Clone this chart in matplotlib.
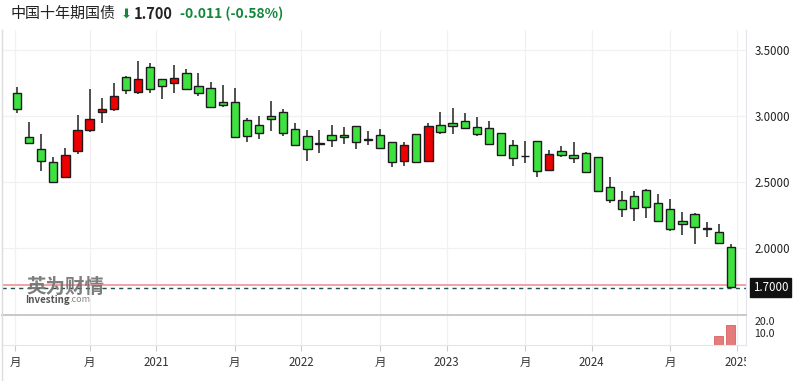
import matplotlib
matplotlib.use("Agg")
import matplotlib.pyplot as plt
from matplotlib.transforms import Bbox, TransformedBbox

plt.rcParams["font.family"] = ["Noto Sans CJK SC", "DejaVu Sans"]

# monthly candles, Feb 2020 .. Jan 2025 (index 1..60)
opens = [3.168, 2.839, 2.744, 2.650, 2.536, 2.731, 2.890, 3.027, 3.047, 3.289,
         3.180, 3.365, 3.274, 3.248, 3.320, 3.226, 3.206, 3.105, 3.105, 2.966,
         2.928, 2.996, 3.029, 2.900, 2.842, 2.792, 2.850, 2.850, 2.920, 2.822,
         2.850, 2.802, 2.658, 2.858, 2.658, 2.928, 2.941, 2.961, 2.911, 2.903,
         2.870, 2.774, 2.695, 2.807, 2.587, 2.733, 2.698, 2.714, 2.683, 2.461,
         2.360, 2.392, 2.436, 2.335, 2.294, 2.201, 2.254, 2.148, 2.120, 2.006]
highs = [3.214, 2.951, 2.858, 2.683, 2.752, 3.006, 3.198, 3.135, 3.248, 3.299,
         3.413, 3.400, 3.274, 3.385, 3.355, 3.320, 3.256, 3.231, 3.206, 2.979,
         2.996, 3.110, 3.047, 2.941, 2.890, 2.890, 2.928, 2.915, 2.920, 2.883,
         2.900, 2.802, 2.797, 2.858, 2.941, 3.024, 3.055, 3.017, 2.986, 2.958,
         2.870, 2.814, 2.807, 2.807, 2.739, 2.769, 2.802, 2.726, 2.683, 2.532,
         2.428, 2.430, 2.441, 2.403, 2.367, 2.267, 2.259, 2.191, 2.176, 2.024]
lows = [3.021, 2.789, 2.580, 2.486, 2.536, 2.706, 2.873, 2.941, 3.036, 3.161,
        3.163, 3.173, 3.123, 3.173, 3.193, 3.148, 3.062, 3.067, 2.839, 2.802,
        2.820, 2.883, 2.847, 2.769, 2.658, 2.714, 2.764, 2.784, 2.744, 2.777,
        2.752, 2.612, 2.620, 2.640, 2.650, 2.860, 2.858, 2.895, 2.847, 2.777,
        2.693, 2.620, 2.638, 2.536, 2.587, 2.683, 2.642, 2.562, 2.418, 2.335,
        2.233, 2.203, 2.221, 2.203, 2.127, 2.095, 2.024, 2.077, 2.032, 1.690]
closes = [3.047, 2.794, 2.658, 2.498, 2.698, 2.890, 2.971, 3.049, 3.148, 3.193,
          3.274, 3.198, 3.226, 3.282, 3.198, 3.168, 3.067, 3.077, 2.839, 2.847,
          2.870, 2.971, 2.865, 2.777, 2.744, 2.788, 2.814, 2.835, 2.802, 2.818,
          2.752, 2.648, 2.777, 2.645, 2.920, 2.877, 2.920, 2.905, 2.858, 2.782,
          2.701, 2.676, 2.692, 2.582, 2.706, 2.698, 2.680, 2.572, 2.430, 2.360,
          2.294, 2.302, 2.309, 2.203, 2.138, 2.176, 2.153, 2.144, 2.032, 1.700]

vol_idx = [59, 60]
vol_vals = [7.8, 16.7]

tick_pos = [0.85, 7, 12.5, 19, 24.5, 31, 36.5, 43, 48.5, 55, 60.5]
tick_labels = ["月", "月", "2021", "月", "2022", "月", "2023", "月", "2024", "月", "2025"]
price_ticks = [2.0, 2.5, 3.0, 3.5]

W, H = 800, 381
fig = plt.figure(figsize=(8, 3.81), dpi=100)

def box(x0, y0, x1, y1):
    return [x0 / W, 1 - y1 / H, (x1 - x0) / W, (y1 - y0) / H]

ax = fig.add_axes(box(2, 30, 746, 315))
vax = fig.add_axes(box(2, 315, 746, 345), sharex=ax)

green = "#3ee23e"
red = "#ee0000"
idx = list(range(1, len(opens) + 1))

ax.vlines(idx, lows, highs, color="#333333", lw=1.2, zorder=2)
for i, o, c in zip(idx, opens, closes):
    col = green if c <= o else red
    ax.bar(i, abs(c - o), bottom=min(o, c), width=0.68, color=col,
           edgecolor="#1e1a20", linewidth=1.0, zorder=3)

ax.axhline(1.713, color="#f29a9a", lw=1.3, zorder=1)
ax.axhline(1.695, color="#1f4f4f", lw=1.0, ls=(0, (3, 3)), zorder=1)

ax.set_xlim(-0.24, 61.25)
ax.set_ylim(1.489, 3.648)
ax.set_yticks(price_ticks)
ax.set_yticklabels(["%.4f" % v for v in price_ticks])
ax.yaxis.tick_right()
ax.tick_params(axis="y", length=0, pad=6, labelsize=8.3, labelcolor="#222222")
ax.tick_params(axis="x", length=0, labelbottom=False)
ax.grid(True, color="#f1f1f4", lw=0.9)
ax.set_axisbelow(True)
for s in ["top", "bottom"]:
    ax.spines[s].set_visible(False)
ax.spines["left"].set_color("#dddddd")
ax.spines["right"].set_color("#e4e4f0")

# volume pane: 0 at the bottom, 10 and 20 close together as in the source
vax.bar(vol_idx, vol_vals, width=0.75, color="#e26464", alpha=0.85,
        edgecolor="#d45050", lw=0.6)
vax.set_ylim(0, 25)
vax.set_yticks([10, 20])
vax.set_yticklabels(["10.0", "20.0"])
vax.yaxis.tick_right()
vax.tick_params(axis="y", length=0, pad=6, labelsize=7.6, labelcolor="#222222")
vax.set_xticks(tick_pos)
vax.set_xticklabels(tick_labels)
vax.tick_params(axis="x", length=4, color="#cccccc", pad=4, labelsize=8.3,
                labelcolor="#333333")
vax.grid(True, axis="x", color="#f1f1f4", lw=0.9)
vax.set_axisbelow(True)
vax.spines["top"].set_color("#c4c4c4")
vax.spines["top"].set_linewidth(1.3)
vax.spines["bottom"].set_color("#e6e6e6")
vax.spines["left"].set_color("#dddddd")
vax.spines["right"].set_color("#e4e4f0")

# the last year label is cut by the price scale
clip = TransformedBbox(Bbox([[0, 0], [746 / W, 1]]), fig.transFigure)
for lab in vax.get_xticklabels():
    lab.set_clip_box(clip)
    lab.set_clip_on(True)

# left border running to the bottom
fig.add_artist(plt.Line2D([2 / W, 2 / W], [0, 1 - 30 / H], color="#dddddd", lw=1))

# last price tag
ax.text(1.0 + 7 / 744, 1.697, "1.7000", transform=ax.get_yaxis_transform(),
        ha="left", va="center", fontsize=8.3, color="white",
        bbox=dict(boxstyle="square,pad=0.25", fc="#111111", ec="#111111"),
        clip_on=False)

# title
fig.text(11 / W, 1 - 14 / H, "中国十年期国债", fontsize=10.8, color="#222222",
         va="center")
fig.text(121 / W, 1 - 14 / H, "⬇", fontsize=9.5, color="#12873a", va="center",
         family=["DejaVu Sans"])
fig.text(134 / W, 1 - 14 / H, "1.700", fontsize=10.5, color="#222222",
         weight="bold", va="center")
fig.text(180 / W, 1 - 14 / H, "-0.011 (-0.58%)", fontsize=10, color="#12873a",
         weight="bold", va="center")

# watermark
fig.text(26 / W, 1 - 287 / H, "英为财情", fontsize=14, color="#707070",
         weight="bold", va="center", alpha=0.9)
fig.text(25 / W, 1 - 300 / H, "Investing", fontsize=7, color="#555555",
         weight="bold", va="center")
fig.text(69 / W, 1 - 300 / H, ".com", fontsize=6.5, color="#888888", va="center")

fig.savefig("out.png", dpi=100)
plt.close(fig)
